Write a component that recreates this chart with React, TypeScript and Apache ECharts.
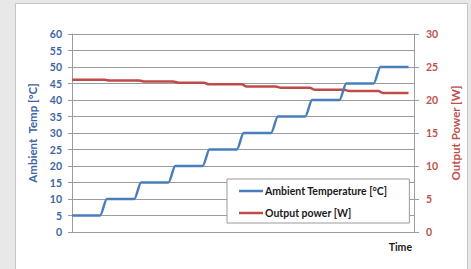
import React, { useEffect, useRef } from "react";
import * as echarts from "echarts";

const tempTime = [0, 8.2, 10.2, 18.2, 20.2, 28.2, 30.2, 38.2, 40.2, 48.2, 50.2, 58.2, 60.2, 68.2, 70.2, 78.2, 80.2, 88.2, 90.2, 98.4];
const tempValues = [5, 5, 10, 10, 15, 15, 20, 20, 25, 25, 30, 30, 35, 35, 40, 40, 45, 45, 50, 50];
const powerTime = [0, 9.6, 11, 19.6, 21, 29.6, 31, 38.6, 40, 49.6, 51, 59.6, 61, 69.6, 71, 79.6, 81, 89.6, 91, 98.4];
const powerValues = [23.05, 23.05, 22.95, 22.95, 22.82, 22.82, 22.62, 22.62, 22.38, 22.38, 22.05, 22.05, 21.85, 21.85, 21.55, 21.55, 21.35, 21.35, 21.05, 21.05];
const leftTicks = { min: 0, max: 60, interval: 5 };
const rightTicks = { min: 0, max: 30, interval: 5 };

const BLUE = "#4A7EBB";
const RED = "#BE4B48";
const BLUE_TXT = "#3D65A3";
const RED_TXT = "#C0504D";
const GRID = "#9c9c9c";
const FONT = "Lato";

export default function App() {
  const ref = useRef<HTMLDivElement>(null);
  useEffect(() => {
    const chart = echarts.init(ref.current!, null, { renderer: "svg" });
    chart.setOption({
      animation: false,
      backgroundColor: "transparent",
      textStyle: { fontFamily: FONT },
      graphic: [
        {
          type: "rect",
          z: -10,
          silent: true,
          shape: { x: 15.5, y: 3.5, width: 452, height: 290 },
          style: { fill: "#ffffff", stroke: "#c4c4c4", lineWidth: 1 },
        },
      ],
      grid: { left: 72, right: 57, top: 34, bottom: 37, containLabel: false },
      legend: {
        left: 227,
        top: 179,
        orient: "vertical",
        backgroundColor: "#ffffff",
        borderColor: "#9a9a9a",
        borderWidth: 1,
        borderRadius: 0,
        padding: [5, 22, 3, 12],
        itemGap: 8,
        itemWidth: 24,
        itemHeight: 2.5,
        icon: "rect",
        textStyle: { fontFamily: FONT, fontSize: 10.5, fontWeight: "bold", color: "#1a1a1a", lineHeight: 14, padding: [0, 0, 0, -3] },
        data: ["Ambient Temperature [°C]", "Output power [W]"],
      },
      xAxis: {
        type: "value",
        min: 0,
        max: 100,
        name: "Time",
        nameLocation: "end",
        nameGap: 0,
        nameTextStyle: {
          fontFamily: FONT,
          fontSize: 10.5,
          fontWeight: "bold",
          color: "#1a1a1a",
          align: "right",
          verticalAlign: "top",
          padding: [9, 2, 0, 0],
        },
        axisLine: { show: true, lineStyle: { color: GRID, width: 1 } },
        axisTick: { show: false },
        axisLabel: { show: false },
        splitLine: { show: false },
      },
      yAxis: [
        {
          type: "value",
          ...leftTicks,
          name: "Ambient  Temp [°C]",
          nameLocation: "middle",
          nameRotate: 90,
          nameGap: 34,
          nameTextStyle: { fontFamily: FONT, fontSize: 11.5, fontWeight: "bold", color: BLUE_TXT },
          axisLine: { show: true, lineStyle: { color: GRID, width: 1 } },
          axisTick: { show: true, inside: false, length: 4, lineStyle: { color: GRID } },
          axisLabel: { margin: 10, fontFamily: FONT, fontSize: 10.5, fontWeight: "bold", color: BLUE_TXT },
          splitLine: { show: true, lineStyle: { color: GRID, width: 1 } },
        },
        {
          type: "value",
          ...rightTicks,
          position: "right",
          name: "Output Power [W]",
          nameLocation: "middle",
          nameRotate: 90,
          nameGap: 34,
          nameTextStyle: { fontFamily: FONT, fontSize: 11.5, fontWeight: "bold", color: RED_TXT },
          axisLine: { show: true, lineStyle: { color: GRID, width: 1 } },
          axisTick: { show: true, inside: false, length: 5, lineStyle: { color: GRID } },
          axisLabel: { margin: 12, fontFamily: FONT, fontSize: 10.5, fontWeight: "bold", color: RED_TXT },
          splitLine: { show: false },
        },
      ],
      series: [
        {
          name: "Ambient Temperature [°C]",
          type: "line",
          yAxisIndex: 0,
          symbol: "none",
          smooth: 0.15,
          lineStyle: { color: BLUE, width: 2.5 },
          itemStyle: { color: BLUE },
          data: tempTime.map((t, i) => [t, tempValues[i]]),
          z: 3,
        },
        {
          name: "Output power [W]",
          type: "line",
          yAxisIndex: 1,
          symbol: "none",
          smooth: 0.15,
          lineStyle: { color: RED, width: 2.5 },
          itemStyle: { color: RED },
          data: powerTime.map((t, i) => [t, powerValues[i]]),
          z: 2,
        },
      ],
    });
    return () => chart.dispose();
  }, []);
  return (
    <div style={{ position: "fixed", left: 0, top: 0, width: 471, height: 269, background: "#e8e8e8" }}>
      <div ref={ref} style={{ width: 471, height: 269 }} />
    </div>
  );
}
